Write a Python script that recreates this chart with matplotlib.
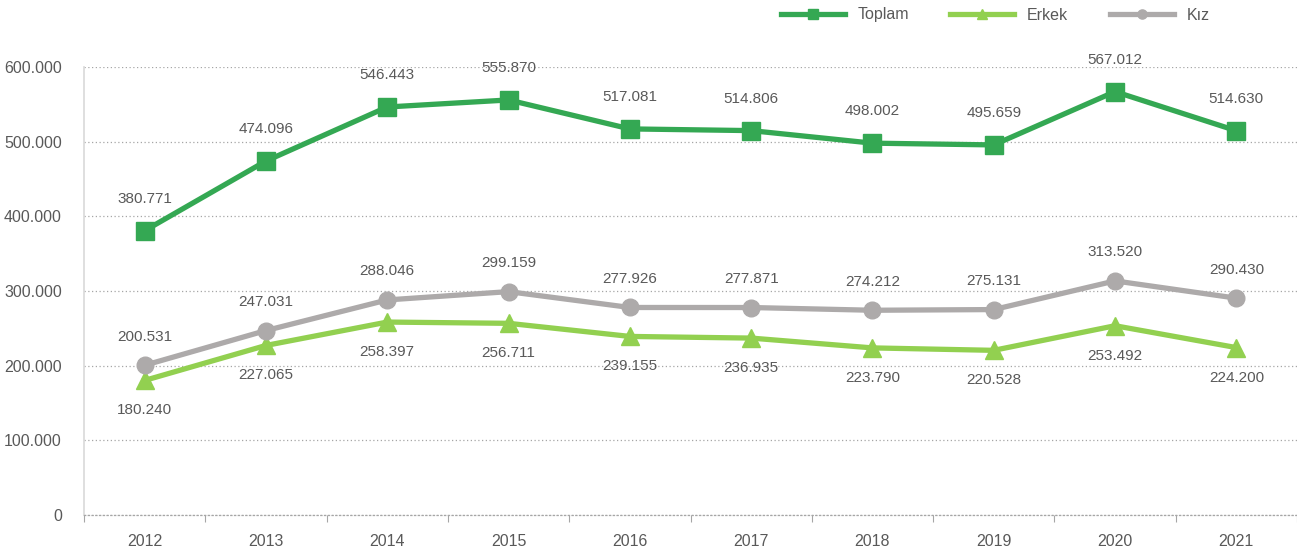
import matplotlib
matplotlib.use('Agg')
import matplotlib.pyplot as plt
from matplotlib.ticker import FuncFormatter, MultipleLocator

years = ['2012', '2013', '2014', '2015', '2016', '2017', '2018', '2019', '2020', '2021']
toplam = [380771, 474096, 546443, 555870, 517081, 514806, 498002, 495659, 567012, 514630]
erkek = [180240, 227065, 258397, 256711, 239155, 236935, 223790, 220528, 253492, 224200]
kiz = [200531, 247031, 288046, 299159, 277926, 277871, 274212, 275131, 313520, 290430]
series_names = ['Toplam', 'Erkek', 'Kız']

plt.rcParams['font.family'] = ['Liberation Sans', 'DejaVu Sans']
text_col = '#595959'

fig = plt.figure(figsize=(12.97, 5.55), dpi=100)
ax = fig.add_axes([84 / 1297, 40 / 555, 1213 / 1297, 448 / 555])

x = list(range(len(years)))
ax.plot(x, toplam, color='#34A853', lw=3.8, marker='s', ms=13, label=series_names[0], zorder=4)
ax.plot(x, erkek, color='#92D050', lw=3.8, marker='^', ms=13, label=series_names[1], zorder=3)
ax.plot(x, kiz, color='#ADAAAA', lw=3.8, marker='o', ms=12, label=series_names[2], zorder=3)

def fmt(v):
    return f'{v:,}'.replace(',', '.')

for i in x:
    ax.annotate(fmt(toplam[i]), (i, toplam[i]), xytext=(0, 18), textcoords='offset points',
                ha='center', va='bottom', fontsize=11, color=text_col)
    ax.annotate(fmt(kiz[i]), (i, kiz[i]), xytext=(0, 15.5), textcoords='offset points',
                ha='center', va='bottom', fontsize=11, color=text_col)
    ax.annotate(fmt(erkek[i]), (i, erkek[i]), xytext=(0, -16.5), textcoords='offset points',
                ha='center', va='top', fontsize=11, color=text_col)

ax.set_xlim(-0.5, len(years) - 0.5)
ax.set_ylim(0, 600000)
ax.yaxis.set_major_locator(MultipleLocator(100000))
ax.yaxis.set_major_formatter(FuncFormatter(lambda v, p: fmt(int(v))))
ax.set_xticks(x)
ax.set_xticklabels(years)
ax.set_xticks([k - 0.5 for k in range(len(years) + 1)], minor=True)

ax.grid(axis='y', color='#A6A6A6', linestyle=(0, (1, 2)), lw=0.9, zorder=0)
for s in ['top', 'right']:
    ax.spines[s].set_visible(False)
ax.spines['left'].set_color('#D9D9D9')
ax.spines['left'].set_linewidth(1.2)
ax.spines['bottom'].set_color('#A6A6A6')
ax.spines['bottom'].set_linestyle((0, (1, 2)))
ax.spines['bottom'].set_linewidth(0.9)

ax.tick_params(axis='y', length=0, pad=16, labelsize=11.5, labelcolor=text_col)
ax.tick_params(axis='x', which='major', length=0, pad=14, labelsize=11.5, labelcolor=text_col)
ax.tick_params(axis='x', which='minor', length=5, color='#A6A6A6', width=0.8)

fig.legend(loc='center', bbox_to_anchor=(995 / 1297, 1 - 15 / 555), ncol=3, frameon=False,
           fontsize=11.5, labelcolor=text_col, handlelength=4.0, columnspacing=2.6,
           markerscale=0.55)

fig.savefig('out.png', dpi=100)
